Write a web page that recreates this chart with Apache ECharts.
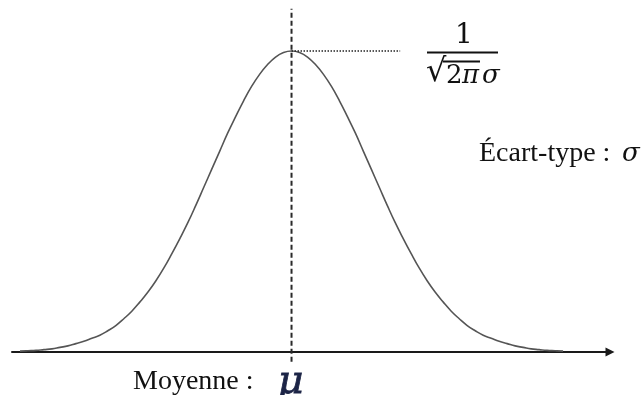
<!DOCTYPE html>
<html>
<head>
<meta charset="utf-8">
<script src="https://cdn.jsdelivr.net/npm/echarts@6/dist/echarts.min.js"></script>
<style>
  html, body { margin: 0; padding: 0; background: #fff; }
  #chart { width: 642px; height: 395px; }
</style>
</head>
<body>
<div id="chart"></div>
<script>
// Positions along the axis, in standard deviations from the mean (right half; the curve is mirrored)
const xsRight = [0.0, 0.1, 0.2, 0.3, 0.4, 0.5, 0.6, 0.7, 0.8, 0.9, 1.0, 1.1, 1.2, 1.3, 1.4, 1.5, 1.6, 1.7,
                 1.8, 1.9, 2.0, 2.1, 2.2, 2.3, 2.4, 2.5, 2.6, 2.7, 2.8, 2.9, 3.0, 3.1, 3.2, 3.3, 3.4];
// Height of the bell curve at each of those positions
const densityRight = [0.399, 0.397, 0.391, 0.381, 0.368, 0.352, 0.333, 0.312, 0.290, 0.266, 0.242, 0.218, 0.194,
                      0.171, 0.150, 0.130, 0.111, 0.094, 0.079, 0.066, 0.054, 0.044, 0.035, 0.028, 0.022, 0.018,
                      0.014, 0.011, 0.008, 0.006, 0.004, 0.003, 0.002, 0.0015, 0.001];
// Mean and peak height
const mean = 0;
const peak = 0.399;
// Extent of the dashed mean line and of the dotted peak guide
const meanLineY = [-0.013, 0.455];
const peakGuideX = [0, 1.36];

// Full symmetric curve: left half mirrored, then the right half
const curve = [];
for (let i = xsRight.length - 1; i > 0; i--) curve.push([mean - xsRight[i], densityRight[i]]);
for (let i = 0; i < xsRight.length; i++) curve.push([mean + xsRight[i], densityRight[i]]);

const chart = echarts.init(document.getElementById('chart'));
chart.setOption({
  animation: false,
  backgroundColor: '#ffffff',
  grid: { left: 12, right: 35, top: 5, bottom: 28 },
  xAxis: {
    type: 'value', min: -3.5, max: 3.95,
    axisLine: { onZero: true, symbol: ['none', 'triangle'], symbolSize: [9, 9], symbolOffset: [0, 3],
                lineStyle: { color: '#1a1a1a', width: 2 } },
    axisTick: { show: false }, axisLabel: { show: false }, splitLine: { show: false }
  },
  yAxis: {
    type: 'value', min: -0.02, max: 0.46, show: false,
    splitLine: { show: false }
  },
  series: [
    {
      type: 'line', data: curve, smooth: 0.45, showSymbol: false,
      lineStyle: { color: '#555555', width: 1.6 }
    },
    {
      type: 'line', data: [[mean, meanLineY[0]], [mean, meanLineY[1]]], showSymbol: false,
      lineStyle: { color: '#2a2a2a', width: 2, type: [5, 3] }
    },
    {
      type: 'line', data: [[peakGuideX[0], peak], [peakGuideX[1], peak]], showSymbol: false,
      lineStyle: { color: '#222222', width: 1.4, type: [1.5, 1.5] }
    }
  ],
  graphic: [
    // fraction 1 / (sqrt(2 pi) sigma)
    { type: 'text', left: 455, top: 22, style: { text: '1', font: '28px "DejaVu Serif"', fill: '#111' } },
    { type: 'line', shape: { x1: 427, y1: 52.5, x2: 498, y2: 52.5 }, style: { stroke: '#111', lineWidth: 2 } },
    { type: 'text', left: 426, top: 57, style: { text: '√', font: '32px "DejaVu Serif"', fill: '#111' } },
    { type: 'line', shape: { x1: 443, y1: 61.5, x2: 480, y2: 61.5 }, style: { stroke: '#111', lineWidth: 1.8 } },
    { type: 'text', left: 446, top: 63, style: { text: '2', font: '26px "DejaVu Serif"', fill: '#111' } },
    { type: 'text', left: 462, top: 63, style: { text: 'π', font: 'italic 26px "DejaVu Serif"', fill: '#111' } },
    { type: 'text', left: 482, top: 63, style: { text: 'σ', font: 'italic 26px "DejaVu Serif"', fill: '#111' } },
    // standard deviation
    { type: 'text', left: 479, top: 140, style: { text: 'Écart-type :', font: '28px "Liberation Serif"', fill: '#111' } },
    { type: 'text', left: 622, top: 141, style: { text: 'σ', font: 'italic 26px "DejaVu Serif"', fill: '#111' } },
    // mean
    { type: 'text', left: 133, top: 368, style: { text: 'Moyenne :', font: '28px "Liberation Serif"', fill: '#111' } },
    { type: 'text', left: 277, top: 362, style: { text: 'μ', font: 'italic 40px "DejaVu Serif"', fill: '#1c2446',
      stroke: '#1c2446', lineWidth: 0.8 } }
  ]
});
</script>
</body>
</html>
